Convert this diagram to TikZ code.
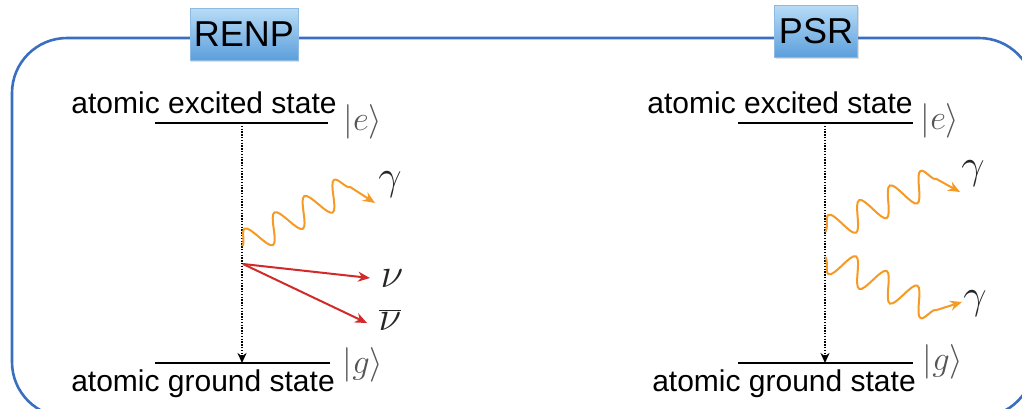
\documentclass[tikz,border=0pt]{standalone}
\usepackage{fontspec}
\setmainfont{Liberation Sans}
\usetikzlibrary{decorations.pathmorphing,arrows.meta,shadows}
\definecolor{frameblue}{HTML}{3A6FC0}
\definecolor{boxtop}{HTML}{B8DCF6}
\definecolor{boxbot}{HTML}{5C9FDC}
\definecolor{boxline}{HTML}{8DBBE3}
\definecolor{photonorange}{HTML}{F49A25}
\definecolor{nured}{HTML}{D02A2A}
\definecolor{ketgray}{HTML}{555555}
\begin{document}
\begin{tikzpicture}[x=0.5pt,y=-0.5pt,
  labelbox/.style={draw=boxline, line width=0.4pt, top color=boxtop, bottom color=boxbot,
    inner sep=0pt, font=\fontsize{18}{21}\selectfont, drop shadow={opacity=0.25, shadow xshift=0.6pt, shadow yshift=-0.8pt}},
  leveltext/.style={anchor=base, inner sep=0pt, font=\fontsize{15}{18}\selectfont},
  level/.style={line width=1pt, black},
  ket/.style={inner sep=0pt, text=ketgray, font=\fontsize{18}{21}\selectfont},
  particle/.style={inner sep=0pt, text=black!85, font=\fontsize{22}{25}\selectfont},
  decay/.style={line width=1.1pt, dash pattern=on 0.7pt off 0.7pt, -{Stealth[length=5pt,width=4.5pt]}},
  photon/.style={photonorange, line width=1pt, decorate,
    decoration={snake, amplitude=7pt, segment length=17pt, post length=#1},
    -{Stealth[length=6pt,width=5pt]}},
  photonm/.style={photon=#1, decoration={mirror}},
  nuarrow/.style={nured, line width=1pt, -{Stealth[length=6pt,width=5pt]}}
]
\useasboundingbox (0,0) rectangle (1022,408);
\begin{scope}
\clip (0,0) rectangle (1022,408);
\draw[frameblue, line width=1.3pt, rounded corners=27.5pt] (12,38) rectangle (1034,417);
\end{scope}

% label boxes
\node[labelbox, minimum width=54pt, minimum height=26pt] (renp) at (244,34) {RENP};
\node[labelbox, minimum width=41.5pt, minimum height=26pt] (psr) at (816,31) {PSR};

% ---------- RENP ----------
\coordinate (e1L) at (155,123);
\coordinate (e1R) at (328,123);
\coordinate (e1M) at (242,123);
\coordinate (g1L) at (155,363);
\coordinate (g1R) at (330,363);
\coordinate (g1M) at (242,363);
\draw[level] (e1L) -- (e1R);
\draw[level] (g1L) -- (g1R);
\node[leveltext] (ex1) at (204,113) {atomic excited state};
\node[leveltext] (gr1) at (203,391) {atomic ground state};
\node[ket] (ket e1) at (363,122) {$|e\rangle$};
\node[ket] (ket g1) at (363,365) {$|g\rangle$};
\draw[decay] (e1M) -- (g1M);

\coordinate (ph1s) at (242,246);
\coordinate (ph1m) at (352,186);
\coordinate (ph1e) at (375,203);
\draw[photon=14pt] (ph1s) -- (ph1m) -- (ph1e);
\node[particle] (gam1) at (390,185) {$\gamma$};

\coordinate (nu0) at (243,264);
\coordinate (nu1) at (370,278);
\coordinate (nu2) at (367,323);
\draw[nuarrow] (nu0) -- (nu1);
\draw[nuarrow] (nu0) -- (nu2);
\node[particle] (nu) at (392,279) {$\nu$};
\node[particle] (nubar) at (390,320) {$\overline{\nu}$};

% ---------- PSR ----------
\coordinate (e2L) at (738,123);
\coordinate (e2R) at (913,123);
\coordinate (e2M) at (825,123);
\coordinate (g2L) at (738,363);
\coordinate (g2R) at (913,363);
\coordinate (g2M) at (825,363);
\draw[level] (e2L) -- (e2R);
\draw[level] (g2L) -- (g2R);
\node[leveltext] (ex2) at (780,113) {atomic excited state};
\node[leveltext] (gr2) at (784,391) {atomic ground state};
\node[ket] (ket e2) at (940,121) {$|e\rangle$};
\node[ket] (ket g2) at (943,362) {$|g\rangle$};
\draw[decay] (e2M) -- (g2M);

\coordinate (ph2s) at (825,232);
\coordinate (ph2m) at (938,178);
\coordinate (ph2e) at (960,192);
\coordinate (ph3s) at (825,257);
\coordinate (ph3m) at (938,311);
\coordinate (ph3e) at (962,302);
\draw[photon=13pt] (ph2s) -- (ph2m) -- (ph2e);
\draw[photonm=12.5pt] (ph3s) -- (ph3m) -- (ph3e);
\node[particle] (gam2) at (973,174) {$\gamma$};
\node[particle] (gam3) at (975,304) {$\gamma$};
\end{tikzpicture}
\end{document}
